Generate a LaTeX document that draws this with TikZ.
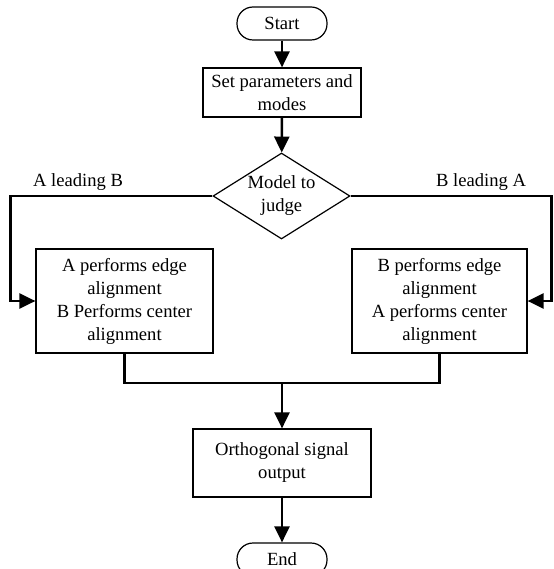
\documentclass[tikz,border=0pt]{standalone}
\usepackage{fontspec}
\setmainfont{Liberation Serif}
\usetikzlibrary{arrows.meta,shapes.geometric}
\begin{document}
\begin{tikzpicture}[x=1pt,y=-1pt,
  font=\fontsize{18.6}{23}\selectfont,
  box/.style={draw, line width=1.2pt, align=center, inner sep=0pt},
  term/.style={box, rounded corners=16pt},
  dec/.style={draw, line width=1.2pt, diamond, align=center, inner sep=0pt, aspect=1.59},
  conn/.style={line width=2.5pt},
  arr/.style={conn, -{Triangle[length=16pt,width=15pt]}},
  lbl/.style={anchor=base, inner sep=0pt}]
\useasboundingbox (0,0) rectangle (553,569);
\node[term, minimum width=90pt, minimum height=33pt] (start) at (282,23.5) {Start};
\node[box, minimum width=158pt, minimum height=49pt] (set) at (282,92.5) {Set parameters and\\modes};
\node[dec, minimum width=137pt, minimum height=86pt] (judge) at (281.5,196) {Model to\\judge};
\node[box, minimum width=177pt, minimum height=104pt] (ba) at (124.5,301) {A performs edge\\alignment\\B Performs center\\alignment};
\node[box, minimum width=175pt, minimum height=104pt] (ab) at (439.5,301) {B performs edge\\alignment\\A performs center\\alignment};
\node[box, minimum width=178pt, minimum height=68pt] (out) at (282,463) {Orthogonal signal\\output};
\node[term, minimum width=90pt, minimum height=33pt] (end) at (282,559.5) {End};
\node[lbl] (la) at (78,186) {A leading B};
\node[lbl] (lb) at (481,186) {B leading A};
\coordinate (lc) at (10.7,196);
\coordinate (rc) at (551.5,196);
\coordinate (m) at (282,383);
\draw[arr] (start) -- (set);
\draw[arr] (set) -- (judge);
\draw[arr] (judge.west) -- (lc) |- (ba.west);
\draw[arr] (judge.east) -- (rc) |- (ab.east);
\draw[conn] (ba.south) |- (m) -| (ab.south);
\draw[arr] (m) -- (out);
\draw[arr] (out) -- (end);
\end{tikzpicture}
\end{document}
